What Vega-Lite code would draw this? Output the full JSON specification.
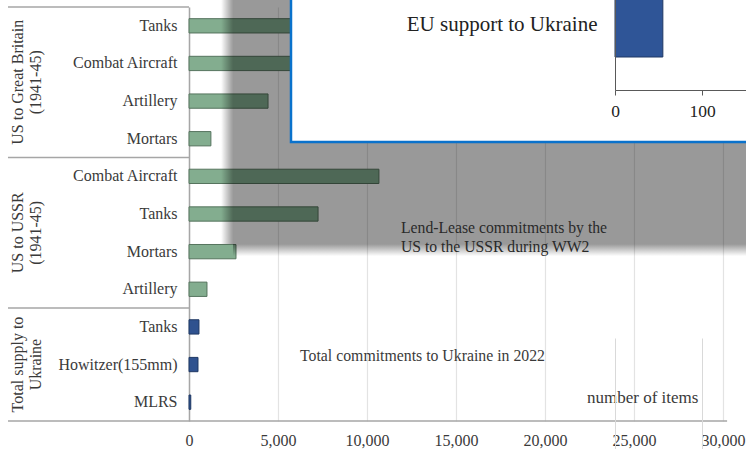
{
  "$schema": "https://vega.github.io/schema/vega-lite/v6.json",
  "width": 534,
  "height": 414,
  "autosize": {"type": "none"},
  "padding": {"left": 189, "top": 7, "right": 23, "bottom": 28},
  "config": {
    "view": {"stroke": null},
    "font": "Liberation Serif",
    "axis": {"labelFont": "Liberation Serif", "labelColor": "#3a3a3a", "labelFontSize": 16},
    "text": {"font": "Liberation Serif"}
  },
  "datasets": {
    "items": [
      {"group": "GB", "key": "GB|Tanks", "value": 17000},
      {"group": "GB", "key": "GB|Combat Aircraft", "value": 20000},
      {"group": "GB", "key": "GB|Artillery", "value": 4440},
      {"group": "GB", "key": "GB|Mortars", "value": 1230},
      {"group": "USSR", "key": "USSR|Combat Aircraft", "value": 10670},
      {"group": "USSR", "key": "USSR|Tanks", "value": 7250},
      {"group": "USSR", "key": "USSR|Mortars", "value": 2640},
      {"group": "USSR", "key": "USSR|Artillery", "value": 1010},
      {"group": "UA", "key": "UA|Tanks", "value": 560},
      {"group": "UA", "key": "UA|Howitzer(155mm)", "value": 505},
      {"group": "UA", "key": "UA|MLRS", "value": 100}
    ],
    "groups": [
      {"key": "GB|Combat Aircraft", "label": "US to Great Britain|(1941-45)", "pos": "between"},
      {"key": "USSR|Tanks", "label": "US to USSR|(1941-45)", "pos": "between"},
      {"key": "UA|Howitzer(155mm)", "label": "Total supply to|Ukraine", "pos": "center"}
    ],
    "separators": [
      {"key": "GB|Mortars"},
      {"key": "USSR|Artillery"}
    ],
    "inset": [
      {"label": "EU support to Ukraine", "value": 55}
    ]
  },
  "layer": [
    {
      "layer": [
        {
          "data": {"name": "items"},
          "mark": {"type": "bar", "height": {"band": 0.38}, "strokeWidth": 1},
          "encoding": {
            "y": {
              "field": "key", "type": "nominal", "title": null,
              "scale": {"domain": ["GB|Tanks", "GB|Combat Aircraft", "GB|Artillery", "GB|Mortars", "USSR|Combat Aircraft", "USSR|Tanks", "USSR|Mortars", "USSR|Artillery", "UA|Tanks", "UA|Howitzer(155mm)", "UA|MLRS"], "paddingInner": 0, "paddingOuter": 0},
              "axis": {"labelExpr": "split(datum.value, '|')[1]", "labelFont": "Liberation Serif", "labelFontSize": 16, "labelColor": "#3a3a3a", "labelPadding": 12, "ticks": false, "domainColor": "#a6a6a6", "domainWidth": 1.5, "grid": false, "labelLimit": 200}
            },
            "x": {
              "field": "value", "type": "quantitative", "title": null,
              "scale": {"domain": [0, 30000], "nice": false},
              "axis": {"values": [0, 5000, 10000, 15000, 20000, 25000, 30000], "labelExpr": "format(datum.value, ',')", "labelFont": "Liberation Serif", "labelFontSize": 16, "labelColor": "#3a3a3a", "labelPadding": 11, "ticks": false, "domain": false, "grid": true, "gridColor": "#e3e3e3", "gridWidth": 1.2, "labelFlush": false}
            },
            "fill": {"field": "group", "type": "nominal", "scale": {"domain": ["GB", "USSR", "UA"], "range": ["#83ad8f", "#83ad8f", "#2f528f"]}, "legend": null},
            "stroke": {"field": "group", "type": "nominal", "scale": {"domain": ["GB", "USSR", "UA"], "range": ["#56745e", "#56745e", "#1f3864"]}, "legend": null}
          }
        },
        {
          "data": {"name": "separators"},
          "mark": {"type": "rule", "color": "#a6a6a6", "strokeWidth": 1.5},
          "encoding": {
            "y": {"field": "key", "type": "nominal", "title": null, "bandPosition": 1},
            "x": {"datum": -10170, "type": "quantitative", "title": null},
            "x2": {"datum": 0}
          }
        },
        {
          "data": {"values": [{}]},
          "mark": {"type": "rule", "color": "#a6a6a6", "strokeWidth": 1.5},
          "encoding": {
            "y": {"datum": "GB|Tanks", "type": "nominal", "title": null, "bandPosition": 0},
            "x": {"datum": -10170, "type": "quantitative", "title": null},
            "x2": {"datum": 0}
          }
        },
        {
          "data": {"values": [{}]},
          "mark": {"type": "rule", "color": "#a6a6a6", "strokeWidth": 1.5},
          "encoding": {
            "y": {"datum": "UA|MLRS", "type": "nominal", "title": null, "bandPosition": 1},
            "x": {"datum": -10170, "type": "quantitative", "title": null},
            "x2": {"datum": 30230}
          }
        },
        {
          "data": {"name": "groups"},
          "transform": [{"filter": "datum.pos == 'between'"}],
          "mark": {"type": "text", "angle": 270, "align": "center", "baseline": "middle", "lineBreak": "|", "fontSize": 16, "lineHeight": 18, "color": "#3a3a3a", "font": "Liberation Serif"},
          "encoding": {
            "y": {"field": "key", "type": "nominal", "title": null, "bandPosition": 1},
            "x": {"datum": -9600, "type": "quantitative", "title": null},
            "text": {"field": "label"}
          }
        },
        {
          "data": {"name": "groups"},
          "transform": [{"filter": "datum.pos == 'center'"}],
          "mark": {"type": "text", "angle": 270, "align": "center", "baseline": "middle", "lineBreak": "|", "fontSize": 16, "lineHeight": 18, "color": "#3a3a3a", "font": "Liberation Serif"},
          "encoding": {
            "y": {"field": "key", "type": "nominal", "title": null, "bandPosition": 0.5},
            "x": {"datum": -9600, "type": "quantitative", "title": null},
            "text": {"field": "label"}
          }
        },
        {
          "data": {"values": [{}]},
          "mark": {"type": "text", "align": "left", "baseline": "middle", "fontSize": 15.8, "color": "#3a3a3a", "font": "Liberation Serif"},
          "encoding": {
            "y": {"datum": "UA|Howitzer(155mm)", "type": "nominal", "title": null, "bandPosition": 0.27},
            "x": {"datum": 6236, "type": "quantitative", "title": null},
            "text": {"value": "Total commitments to Ukraine in 2022"}
          }
        },
        {
          "data": {"values": [{}]},
          "mark": {"type": "text", "align": "left", "baseline": "middle", "fontSize": 17, "color": "#3a3a3a", "font": "Liberation Serif"},
          "encoding": {
            "y": {"datum": "UA|MLRS", "type": "nominal", "title": null, "bandPosition": 0.39},
            "x": {"datum": 22360, "type": "quantitative", "title": null},
            "text": {"value": "number of items"}
          }
        },
        {
          "data": {"values": [{}]},
          "mark": {"type": "rect", "fill": "black", "fillOpacity": 0.4},
          "encoding": {
            "y": {"datum": "GB|Tanks", "type": "nominal", "title": null, "bandPosition": -0.5},
            "y2": {"datum": "USSR|Mortars", "bandPosition": 0.3},
            "x": {"datum": 2470, "type": "quantitative", "title": null},
            "x2": {"datum": 31600}
          }
        },
        {
          "data": {"values": [{}]},
          "mark": {"type": "rect", "fill": {"gradient": "linear", "x1": 0, "x2": 1, "y1": 0, "y2": 0, "stops": [{"offset": 0, "color": "rgba(0,0,0,0)"}, {"offset": 1, "color": "rgba(0,0,0,0.4)"}]}},
          "encoding": {
            "y": {"datum": "GB|Tanks", "type": "nominal", "title": null, "bandPosition": -0.5},
            "y2": {"datum": "USSR|Mortars", "bandPosition": 0.3},
            "x": {"datum": 1800, "type": "quantitative", "title": null},
            "x2": {"datum": 2470}
          }
        },
        {
          "data": {"values": [{}]},
          "mark": {"type": "rect", "fill": {"gradient": "linear", "x1": 0, "x2": 0, "y1": 0, "y2": 1, "stops": [{"offset": 0, "color": "rgba(0,0,0,0.4)"}, {"offset": 1, "color": "rgba(0,0,0,0)"}]}},
          "encoding": {
            "y": {"datum": "USSR|Mortars", "type": "nominal", "title": null, "bandPosition": 0.3},
            "y2": {"datum": "USSR|Mortars", "bandPosition": 0.62},
            "x": {"datum": 2470, "type": "quantitative", "title": null},
            "x2": {"datum": 31600}
          }
        },
        {
          "data": {"values": [{}]},
          "mark": {"type": "text", "align": "left", "baseline": "middle", "fontSize": 15.7, "lineHeight": 19, "lineBreak": "|", "color": "#2a2a2a", "font": "Liberation Serif"},
          "encoding": {
            "y": {"datum": "USSR|Mortars", "type": "nominal", "title": null, "bandPosition": -0.13},
            "x": {"datum": 11910, "type": "quantitative", "title": null},
            "text": {"value": "Lend-Lease commitments by the|US to the USSR  during WW2"}
          }
        },
        {
          "data": {"values": [{}]},
          "mark": {"type": "rect", "fill": "white", "stroke": "#0a72cc", "strokeWidth": 2.5},
          "encoding": {
            "y": {"datum": "GB|Tanks", "type": "nominal", "title": null, "bandPosition": -0.5},
            "y2": {"datum": "GB|Mortars", "bandPosition": 0.587},
            "x": {"datum": 5730, "type": "quantitative", "title": null},
            "x2": {"datum": 31600}
          }
        }
      ]
    },
    {
      "data": {"name": "inset"},
      "layer": [
        {
          "mark": {"type": "bar", "fill": "#2f5597", "stroke": "#1f3864", "strokeWidth": 1},
          "encoding": {
            "y": {
              "field": "label", "type": "nominal", "title": null,
              "scale": {"range": [-47, 83], "paddingInner": 0, "paddingOuter": 0.5156},
              "axis": {"orient": "left", "offset": -426, "ticks": false, "labelFont": "Liberation Serif", "labelFontSize": 21, "labelPadding": 18, "labelColor": "#222222", "domainColor": "#595959", "zindex": 1, "labelLimit": 300, "grid": false}
            },
            "x": {
              "field": "value", "type": "quantitative", "title": null,
              "scale": {"domain": [0, 150], "range": [426, 556.5], "nice": false},
              "axis": {"orient": "bottom", "offset": -331, "values": [0, 100], "grid": true, "gridColor": "#d9d9d9", "domainColor": "#595959", "tickColor": "#595959", "tickSize": 5, "labelPadding": 7, "labelFont": "Liberation Serif", "labelFontSize": 17.5, "labelColor": "#222222", "zindex": 1, "labelFlush": false}
            }
          }
        }
      ]
    }
  ],
  "resolve": {"scale": {"x": "independent", "y": "independent"}, "axis": {"x": "independent", "y": "independent"}}
}
